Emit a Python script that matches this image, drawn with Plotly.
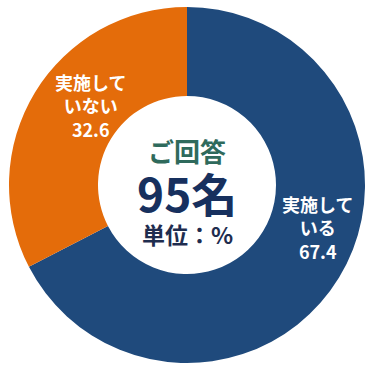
import plotly.graph_objects as go

labels = ["実施している", "実施していない"]
label_text = ["実施して<br>いる", "実施して<br>いない"]
values = [67.4, 32.6]
colors = ["#1F4A7C", "#E46C0A"]
total_respondents = 95

W, H = 373, 369
cx, cy, r = 187, 185, 178

fig = go.Figure(go.Pie(
    labels=labels,
    values=values,
    textinfo="none",
    marker=dict(colors=colors, line=dict(width=0)),
    hole=0.5,
    sort=False,
    direction="clockwise",
    rotation=0,
    showlegend=False,
    domain=dict(x=[(cx - r) / W, (cx + r) / W], y=[(H - cy - r) / H, (H - cy + r) / H]),
))

# slice labels (pixel centres)
label_pos = [(317, 227), (90, 105)]
for txt, v, (px, py) in zip(label_text, values, label_pos):
    fig.add_annotation(x=px / W, y=(H - py) / H, xref="paper", yref="paper",
                       xanchor="center", yanchor="middle",
                       text=f"<b>{txt}<br>{v:.1f}</b>", showarrow=False, align="center",
                       font=dict(family="Noto Sans CJK JP", size=18, color="white"))

center_items = [("<b>ご回答</b>", 150, 26, "#2F6A5C"),
                (f"<b>{total_respondents}名</b>", 192, 46, "#17305E"),
                ("<b>単位：%</b>", 234, 23, "#1F2D4F")]
for txt, py, size, col in center_items:
    fig.add_annotation(x=cx / W, y=(H - py) / H, xref="paper", yref="paper",
                       xanchor="center", yanchor="middle", text=txt, showarrow=False,
                       font=dict(family="Noto Sans CJK JP", size=size, color=col))

fig.update_layout(width=W, height=H, margin=dict(l=0, r=0, t=0, b=0),
                  paper_bgcolor="white", plot_bgcolor="white")
fig.write_html("out.html")
